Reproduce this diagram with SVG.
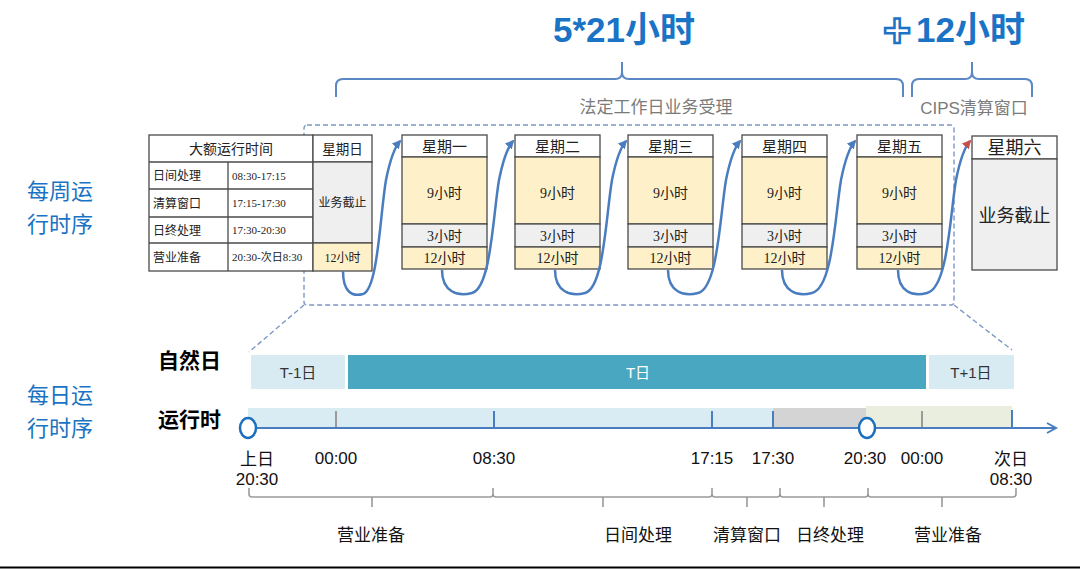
<svg xmlns="http://www.w3.org/2000/svg" width="1080" height="569" viewBox="0 0 1080 569">
<style>
.sans{font-family:"Liberation Sans","Noto Sans CJK SC",sans-serif;}
.cjk{font-family:"Noto Sans CJK SC","Liberation Sans",sans-serif;}
.serif{font-family:"Liberation Serif","Noto Sans CJK SC",serif;}
.title{font-size:35px;font-weight:bold;fill:#1a73c4;}
.brace{fill:none;stroke:#5b87c5;stroke-width:2;}
.gray{fill:#7b7b7b;font-size:17px;}
.cell{stroke:#4a4a4a;stroke-width:1.3;}
.w{fill:#ffffff;}
.y{fill:#fef1c9;}
.g{fill:#efefef;}
.t{fill:#222;text-anchor:middle;}
.dash{fill:none;stroke:#7c98c4;stroke-width:1.4;stroke-dasharray:5 3;}
.arr{fill:none;stroke:#4a7dbf;stroke-width:2.5;}
.lbl{font-size:17px;fill:#111;text-anchor:middle;}
.brk{fill:none;stroke:#9a9a9a;stroke-width:1.6;}
.side{font-size:22px;fill:#1a73c4;}
.head{font-size:21px;font-weight:bold;fill:#000;}
</style>
<defs>
<marker id="ab" viewBox="0 0 10 10" refX="8" refY="5" markerWidth="9" markerHeight="9" markerUnits="userSpaceOnUse" orient="auto">
<path d="M0,0 L10,5 L0,10 z" fill="#4a7dbf"/>
</marker>
<marker id="ar" viewBox="0 0 10 10" refX="8" refY="5" markerWidth="9" markerHeight="9" markerUnits="userSpaceOnUse" orient="auto">
<path d="M0,0 L10,5 L0,10 z" fill="#c8504c"/>
</marker>
</defs>
<rect width="1080" height="569" fill="#ffffff"/>

<g id="titles">
<text class="sans title" x="624" y="42" text-anchor="middle">5*21小时</text>
<text class="sans" x="897" y="47" text-anchor="middle" font-size="48" font-weight="bold" fill="#ffffff" stroke="#1a73c4" stroke-width="2.5">+</text>
<text class="sans title" x="916" y="42">12小时</text>
</g>

<g id="braces">
<path class="brace" d="M336 97 L336 86 Q336 79 343 79 L615 79 Q622 79 622 72 L622 62 M622 72 Q622 79 629 79 L896 79 Q903 79 903 86 L903 97"/>
<path class="brace" d="M912 97 L912 86 Q912 79 919 79 L965 79 Q972 79 972 72 L972 62 M972 72 Q972 79 979 79 L1025 79 Q1032 79 1032 86 L1032 97"/>
<text class="cjk gray" x="656" y="113" text-anchor="middle">法定工作日业务受理</text>
<text class="sans gray" x="974" y="114" text-anchor="middle">CIPS清算窗口</text>
</g>

<g id="side-labels">
<text class="cjk side" x="27" y="199">每周运</text>
<text class="cjk side" x="27" y="232">行时序</text>
<text class="cjk side" x="27" y="403">每日运</text>
<text class="cjk side" x="27" y="436">行时序</text>
</g>

<g id="zoom-frame">
<rect class="dash" x="304" y="125" width="650" height="180" rx="3"/>
<path class="dash" d="M304 305 L249 352 M954 305 L1012 350"/>
</g>

<g id="schedule-table">
<rect class="cell w" x="149" y="135" width="164" height="136"/>
<line class="cell" x1="149" y1="162" x2="313" y2="162"/>
<line class="cell" x1="149" y1="189" x2="313" y2="189"/>
<line class="cell" x1="149" y1="217" x2="313" y2="217"/>
<line class="cell" x1="149" y1="243" x2="313" y2="243"/>
<line class="cell" x1="228" y1="162" x2="228" y2="271"/>
<text class="serif t" x="231" y="154" font-size="14">大额运行时间</text>
<g class="serif" font-size="12" fill="#222">
<text x="153" y="180">日间处理</text>
<text x="153" y="207.5">清算窗口</text>
<text x="153" y="234.5">日终处理</text>
<text x="153" y="261.5">营业准备</text>
</g>
<g class="serif" font-size="11" fill="#222">
<text x="232" y="179.5">08:30-17:15</text>
<text x="232" y="207">17:15-17:30</text>
<text x="232" y="234">17:30-20:30</text>
<text x="232" y="261">20:30-次日8:30</text>
</g>
</g>

<g id="day-sun">
<rect class="cell w" x="313" y="135" width="59" height="27"/>
<rect class="cell g" x="313" y="162" width="59" height="81"/>
<rect class="cell y" x="313" y="243" width="59" height="28"/>
<text class="serif t" x="342.5" y="154" font-size="13.5">星期日</text>
<text class="serif t" x="342.5" y="207" font-size="12">业务截止</text>
<text class="serif t" x="342.5" y="261.5" font-size="12">12小时</text>
</g>

<g id="day-mon" transform="translate(402,0)">
<rect class="cell w" x="0" y="135" width="85" height="22"/>
<rect class="cell y" x="0" y="157" width="85" height="67"/>
<rect class="cell g" x="0" y="224" width="85" height="23"/>
<rect class="cell y" x="0" y="247" width="85" height="22"/>
<text class="serif t" x="42.5" y="151.5" font-size="15">星期一</text>
<text class="serif t" x="42.5" y="198" font-size="14">9小时</text>
<text class="serif t" x="42.5" y="240.5" font-size="14">3小时</text>
<text class="serif t" x="42.5" y="263" font-size="14">12小时</text>
</g>
<g id="day-tue" transform="translate(515,0)">
<rect class="cell w" x="0" y="135" width="85" height="22"/>
<rect class="cell y" x="0" y="157" width="85" height="67"/>
<rect class="cell g" x="0" y="224" width="85" height="23"/>
<rect class="cell y" x="0" y="247" width="85" height="22"/>
<text class="serif t" x="42.5" y="151.5" font-size="15">星期二</text>
<text class="serif t" x="42.5" y="198" font-size="14">9小时</text>
<text class="serif t" x="42.5" y="240.5" font-size="14">3小时</text>
<text class="serif t" x="42.5" y="263" font-size="14">12小时</text>
</g>
<g id="day-wed" transform="translate(628,0)">
<rect class="cell w" x="0" y="135" width="85" height="22"/>
<rect class="cell y" x="0" y="157" width="85" height="67"/>
<rect class="cell g" x="0" y="224" width="85" height="23"/>
<rect class="cell y" x="0" y="247" width="85" height="22"/>
<text class="serif t" x="42.5" y="151.5" font-size="15">星期三</text>
<text class="serif t" x="42.5" y="198" font-size="14">9小时</text>
<text class="serif t" x="42.5" y="240.5" font-size="14">3小时</text>
<text class="serif t" x="42.5" y="263" font-size="14">12小时</text>
</g>
<g id="day-thu" transform="translate(742,0)">
<rect class="cell w" x="0" y="135" width="85" height="22"/>
<rect class="cell y" x="0" y="157" width="85" height="67"/>
<rect class="cell g" x="0" y="224" width="85" height="23"/>
<rect class="cell y" x="0" y="247" width="85" height="22"/>
<text class="serif t" x="42.5" y="151.5" font-size="15">星期四</text>
<text class="serif t" x="42.5" y="198" font-size="14">9小时</text>
<text class="serif t" x="42.5" y="240.5" font-size="14">3小时</text>
<text class="serif t" x="42.5" y="263" font-size="14">12小时</text>
</g>
<g id="day-fri" transform="translate(857,0)">
<rect class="cell w" x="0" y="135" width="85" height="22"/>
<rect class="cell y" x="0" y="157" width="85" height="67"/>
<rect class="cell g" x="0" y="224" width="85" height="23"/>
<rect class="cell y" x="0" y="247" width="85" height="22"/>
<text class="serif t" x="42.5" y="151.5" font-size="15">星期五</text>
<text class="serif t" x="42.5" y="198" font-size="14">9小时</text>
<text class="serif t" x="42.5" y="240.5" font-size="14">3小时</text>
<text class="serif t" x="42.5" y="263" font-size="14">12小时</text>
</g>
<g id="day-sat">
<rect class="cell w" x="972" y="136" width="85" height="23"/>
<rect class="cell g" x="972" y="159" width="85" height="111"/>
<text class="serif t" x="1014.5" y="154" font-size="18">星期六</text>
<text class="serif t" x="1014.5" y="222" font-size="18">业务截止</text>
</g>

<g id="connectors">
<path class="arr" marker-end="url(#ab)" d="M343 271 C343 292 352 297 363 294 C378 289 380 215 386 180 C390 160 394 148 400 141"/>
<path class="arr" marker-end="url(#ab)" d="M442 270 C442 292 458 297 472 293 C491 288 493 215 499 180 C503 160 507 148 513 141"/>
<path class="arr" marker-end="url(#ab)" d="M555 270 C555 292 571 297 585 293 C604 288 606 215 612 180 C616 160 620 148 626 141"/>
<path class="arr" marker-end="url(#ab)" d="M668 270 C668 292 684 297 698 293 C718 288 720 215 726 180 C730 160 734 148 740 141"/>
<path class="arr" marker-end="url(#ab)" d="M782 270 C782 292 798 297 812 293 C833 288 835 215 841 180 C845 160 849 148 855 141"/>
<path class="arr" stroke="#c8504c" marker-end="url(#ar)" d="M898 270 C898 292 913 297 927 293 C948 288 950 215 956 180 C960 160 964 148 970 141"/>
</g>

<g id="natural-day">
<text class="cjk head" x="158" y="368">自然日</text>
<rect x="251" y="355" width="94" height="34" fill="#d8ebf3"/>
<rect x="348" y="355" width="578" height="34" fill="#4aa7c1"/>
<rect x="929" y="355" width="85" height="34" fill="#d8ebf3"/>
<text class="sans" x="298" y="378" font-size="15" fill="#333" text-anchor="middle">T-1日</text>
<text class="sans" x="638" y="378" font-size="15" fill="#ffffff" text-anchor="middle">T日</text>
<text class="sans" x="971" y="378" font-size="15" fill="#333" text-anchor="middle">T+1日</text>
</g>

<g id="runtime">
<text class="cjk head" x="158" y="427">运行时</text>
<rect x="248" y="408" width="525" height="20" fill="#d9ecf4"/>
<rect x="773" y="408" width="93" height="20" fill="#d4d4d4"/>
<rect x="866" y="406" width="146" height="22" fill="#eaeedf"/>
<line x1="336" y1="411" x2="336" y2="428" stroke="#9a9a9a" stroke-width="2"/>
<line x1="494" y1="411" x2="494" y2="428" stroke="#4a7dbf" stroke-width="2"/>
<line x1="712" y1="411" x2="712" y2="428" stroke="#4a7dbf" stroke-width="2"/>
<line x1="773" y1="411" x2="773" y2="428" stroke="#4a7dbf" stroke-width="2"/>
<line x1="922" y1="411" x2="922" y2="428" stroke="#9a9a9a" stroke-width="2"/>
<line x1="1012" y1="410" x2="1012" y2="428" stroke="#4a7dbf" stroke-width="2"/>
<line x1="248" y1="428" x2="1055" y2="428" stroke="#4a7dbf" stroke-width="2"/>
<polyline points="1047,423 1056,428 1047,433" fill="none" stroke="#4a7dbf" stroke-width="2"/>
<ellipse cx="248" cy="428" rx="8" ry="10" fill="#ffffff" stroke="#1a6fc0" stroke-width="2.5"/>
<ellipse cx="867" cy="428" rx="8" ry="10" fill="#ffffff" stroke="#1a6fc0" stroke-width="2.5"/>
<g class="sans lbl">
<text x="257" y="465">上日</text>
<text x="257" y="485">20:30</text>
<text x="336" y="464">00:00</text>
<text x="494" y="464">08:30</text>
<text x="712" y="464">17:15</text>
<text x="773" y="464">17:30</text>
<text x="865" y="464">20:30</text>
<text x="922" y="464">00:00</text>
<text x="1011" y="465">次日</text>
<text x="1011" y="485">08:30</text>
</g>
</g>

<g id="phases">
<path class="brk" d="M249 488 L249 494 Q249 497 252 497 L490 497 Q493 497 493 494 L493 488 M372 497 L372 507 M493 494 Q493 497 496 497 L709 497 Q712 497 712 494 L712 488 M603 497 L603 507 M712 494 Q712 497 715 497 L777 497 Q780 497 780 494 L780 488 M747 497 L747 507 M780 494 Q780 497 783 497 L865 497 Q868 497 868 494 L868 488 M824 497 L824 507 M868 494 Q868 497 871 497 L1013 497 Q1016 497 1016 494 L1016 488 M942 497 L942 507"/>
<g class="cjk" font-size="17" fill="#111">
<text x="371" y="541" text-anchor="middle">营业准备</text>
<text x="638" y="541" text-anchor="middle">日间处理</text>
<text x="747" y="541" text-anchor="middle">清算窗口</text>
<text x="830" y="541" text-anchor="middle">日终处理</text>
<text x="948" y="541" text-anchor="middle">营业准备</text>
</g>
</g>

<line x1="0" y1="567.5" x2="1080" y2="567.5" stroke="#000" stroke-width="2"/>
</svg>
